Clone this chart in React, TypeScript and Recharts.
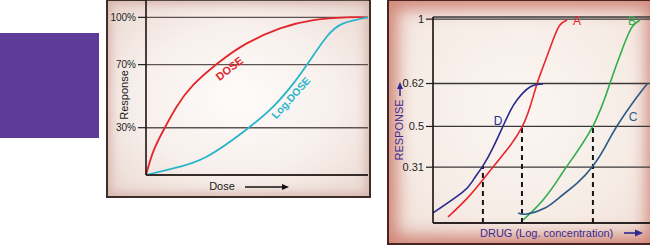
import React from "react";
import {
  CartesianGrid,
  Label,
  Line,
  LineChart,
  ReferenceDot,
  ReferenceLine,
  XAxis,
  YAxis,
} from "recharts";

const FONT = '"Liberation Sans", Arial, Helvetica, sans-serif';

// left panel: response (%) against dose
const DOSE_X = [0, 3.3, 8.1, 13.8, 21.3, 32.6, 45.4, 60.4, 75.4, 90.4, 100];
const DOSE_Y = [0, 15, 29, 43.3, 57.1, 71.2, 83.5, 93, 98.3, 100, 100];
const LOGDOSE_X = [0, 12.3, 27.3, 45.4, 57.3, 66.4, 73.1, 81.4, 88.9, 100];
const LOGDOSE_Y = [0, 4.2, 11.6, 29, 43.3, 58.1, 71.2, 87.7, 96.2, 100];
const PCT_TICKS = [30, 70, 100];
const CURVE_NAMES = ["DOSE", "Log.DOSE"];
const CURVE_NAME_X = [37.8, 65.6];
const CURVE_NAME_Y = [67, 48.6];

// right panel: response against log concentration, drugs A-D
const A_X = [6.9, 17.1, 27.6, 35.5, 41, 44.7, 47.9, 50.7, 55.3, 58.5, 61.8];
const A_Y = [0.078, 0.18, 0.31, 0.41, 0.497, 0.591, 0.698, 0.777, 0.903, 0.973, 0.996];
const B_X = [41.5, 50.7, 58.5, 61.8, 73.7, 81.6, 87.6, 91.7, 95.4];
const B_Y = [0.064, 0.157, 0.266, 0.316, 0.502, 0.702, 0.87, 0.963, 0.996];
const C_X = [39.2, 43.3, 51.6, 58.5, 66.4, 73.7, 79.3, 84.8, 94, 99.1];
const C_Y = [0.097, 0.092, 0.12, 0.171, 0.236, 0.316, 0.404, 0.502, 0.637, 0.702];
const D_X = [0, 13.8, 18.5, 23, 27.6, 32.3, 35.5, 38.7, 44.7, 50.7];
const D_Y = [0.097, 0.195, 0.25, 0.316, 0.4, 0.502, 0.57, 0.623, 0.684, 0.698];
// the "0.62" guide is drawn higher than its value in the original sketch
const RESP_TICKS = [0.31, 0.5, 0.7, 1];
const RESP_LABELS = ["0.31", "0.5", "0.62", "1"];
const DRUG_NAMES = ["A", "B", "C", "D"];
const DRUG_COLORS = ["#e8262b", "#2fae4a", "#2a5a86", "#2b2a8e"];
const DRUG_NAME_X = [66.4, 91.7, 92.2, 30];
const DRUG_NAME_Y = [0.987, 0.987, 0.539, 0.521];
const DROP_X = [23, 41, 73.7];
const DROP_Y = [0.316, 0.502, 0.502];

const pts = (xs: number[], ys: number[]) => xs.map((x, i) => ({ x, y: ys[i] }));

function DoseChart() {
  return (
    <LineChart width={263} height={197} margin={{ top: 0, right: 2, bottom: 0, left: 0 }}>
      <CartesianGrid vertical={false} stroke="#5e5350" strokeWidth={1.4} />
      <XAxis
        type="number"
        dataKey="x"
        domain={[0, 100]}
        height={22}
        tick={false}
        tickLine={false}
        axisLine={{ stroke: "#1c1412", strokeWidth: 1.6 }}
      >
        <Label
          content={({ viewBox }: any) => (
            <g>
              <text x={viewBox.x + 76} y={viewBox.y + 12} textAnchor="middle" dominantBaseline="middle" fontSize={11} fontFamily={FONT} fill="#1a1a1a">
                Dose
              </text>
              <line x1={viewBox.x + 99} x2={viewBox.x + 137} y1={viewBox.y + 12} y2={viewBox.y + 12} stroke="#111" strokeWidth={1.3} />
              <polygon
                points={`${viewBox.x + 143},${viewBox.y + 12} ${viewBox.x + 136},${viewBox.y + 9} ${viewBox.x + 136},${viewBox.y + 15}`}
                fill="#111"
              />
            </g>
          )}
        />
      </XAxis>
      <YAxis
        type="number"
        domain={[0, 111]}
        ticks={PCT_TICKS}
        width={39}
        tickSize={8}
        tickFormatter={(v: number) => `${v}%`}
        tick={{ fill: "#1e1e1e", fontSize: 10, fontFamily: FONT }}
        tickLine={{ stroke: "#1e1e1e", strokeWidth: 1.2 }}
        axisLine={{ stroke: "#1c1412", strokeWidth: 1.6 }}
      >
        <Label
          content={({ viewBox }: any) => (
            <text
              x={viewBox.x + 18}
              y={95}
              transform={`rotate(-90 ${viewBox.x + 18} 95)`}
              textAnchor="middle"
              dominantBaseline="middle"
              fontSize={11}
              fontFamily={FONT}
              fill="#1a1a1a"
            >
              Response
            </text>
          )}
        />
      </YAxis>
      <Line data={pts(DOSE_X, DOSE_Y)} dataKey="y" type="natural" stroke="#e3262b" strokeWidth={1.8} dot={false} isAnimationActive={false} />
      <Line data={pts(LOGDOSE_X, LOGDOSE_Y)} dataKey="y" type="natural" stroke="#2ab4cb" strokeWidth={1.8} dot={false} isAnimationActive={false} />
      {CURVE_NAMES.map((name, i) => (
        <ReferenceDot
          key={name}
          x={CURVE_NAME_X[i]}
          y={CURVE_NAME_Y[i]}
          ifOverflow="visible"
          shape={(p: any) => (
            <text
              x={p.cx}
              y={p.cy}
              transform={`rotate(${i === 0 ? -38 : -48} ${p.cx} ${p.cy})`}
              textAnchor="middle"
              dominantBaseline="middle"
              fontSize={i === 0 ? 11 : 10.5}
              fontWeight="bold"
              fontFamily={FONT}
              fill={i === 0 ? "#e3262b" : "#2ab4cb"}
            >
              {name}
            </text>
          )}
        />
      ))}
    </LineChart>
  );
}

function DrugChart() {
  const series = [pts(A_X, A_Y), pts(B_X, B_Y), pts(C_X, C_Y), pts(D_X, D_Y)];
  return (
    <LineChart width={262} height={244} margin={{ top: 17, right: 0, bottom: 0, left: 0 }}>
      <CartesianGrid vertical={false} stroke="#3a3838" strokeWidth={1.3} />
      <XAxis
        type="number"
        dataKey="x"
        domain={[0, 100]}
        height={21}
        tick={false}
        tickLine={false}
        axisLine={{ stroke: "#161010", strokeWidth: 1.6 }}
      >
        <Label
          content={({ viewBox }: any) => (
            <g>
              <text x={viewBox.x + 47} y={viewBox.y + 11} dominantBaseline="middle" fontSize={11} fontFamily={FONT} fill="#3b2a8e">
                DRUG (Log. concentration)
              </text>
              <line x1={viewBox.x + 191} x2={viewBox.x + 203} y1={viewBox.y + 10} y2={viewBox.y + 10} stroke="#2b2a8e" strokeWidth={1.6} />
              <polygon
                points={`${viewBox.x + 210},${viewBox.y + 10} ${viewBox.x + 202},${viewBox.y + 6.5} ${viewBox.x + 202},${viewBox.y + 13.5}`}
                fill="#2b2a8e"
              />
            </g>
          )}
        />
      </XAxis>
      <YAxis
        type="number"
        domain={[0.05, 1.01]}
        ticks={RESP_TICKS}
        width={45}
        tickSize={7}
        tickFormatter={(v: number) => RESP_LABELS[RESP_TICKS.indexOf(v)]}
        tick={{ fill: "#1e1e1e", fontSize: 11, fontFamily: FONT }}
        tickLine={{ stroke: "#1e1e1e", strokeWidth: 1.2 }}
        axisLine={{ stroke: "#161010", strokeWidth: 1.6 }}
      >
        <Label
          content={({ viewBox }: any) => (
            <g>
              <text
                x={viewBox.x + 12}
                y={130}
                transform={`rotate(-90 ${viewBox.x + 12} 130)`}
                textAnchor="middle"
                dominantBaseline="middle"
                fontSize={11}
                fontFamily={FONT}
                fill="#3b2a8e"
              >
                RESPONSE
              </text>
              <line x1={viewBox.x + 12} x2={viewBox.x + 12} y1={96} y2={88} stroke="#2b2a8e" strokeWidth={1.5} />
              <polygon points={`${viewBox.x + 12},${82} ${viewBox.x + 9},${89} ${viewBox.x + 15},${89}`} fill="#2b2a8e" />
            </g>
          )}
        />
      </YAxis>
      {DROP_X.map((x, i) => (
        <ReferenceLine
          key={`drop-${i}`}
          segment={[
            { x, y: 0.05 },
            { x, y: DROP_Y[i] },
          ]}
          stroke="#151515"
          strokeWidth={2}
          strokeDasharray="5 4"
        />
      ))}
      {series.map((data, i) => (
        <Line
          key={DRUG_NAMES[i]}
          data={data}
          dataKey="y"
          type="natural"
          stroke={DRUG_COLORS[i]}
          strokeWidth={1.6}
          dot={false}
          isAnimationActive={false}
        />
      ))}
      {DRUG_NAMES.map((name, i) => (
        <ReferenceDot
          key={`name-${name}`}
          x={DRUG_NAME_X[i]}
          y={DRUG_NAME_Y[i]}
          ifOverflow="visible"
          shape={(p: any) => (
            <text x={p.cx} y={p.cy} textAnchor="middle" dominantBaseline="middle" fontSize={12} fontFamily={FONT} fill={DRUG_COLORS[i]}>
              {name}
            </text>
          )}
        />
      ))}
    </LineChart>
  );
}

export default function App() {
  return (
    <div style={{ position: "absolute", left: 0, top: 0, width: 650, height: 245, overflow: "hidden", background: "#fff" }}>
      <div style={{ position: "absolute", left: 0, top: 33, width: 99, height: 105, background: "#5c3b99" }} />
      <div
        style={{
          position: "absolute",
          left: 106,
          top: -1,
          width: 265,
          height: 199,
          boxSizing: "border-box",
          border: "2px solid #3d2e2a",
          background: "radial-gradient(ellipse at 50% 50%, #fefcfb 0%, #f7efeb 55%, #ead7d0 100%)",
          boxShadow: "inset 0 0 10px 3px rgba(205,165,155,0.7)",
        }}
      />
      <div style={{ position: "absolute", left: 107, top: 0 }}>
        <DoseChart />
      </div>
      <div
        style={{
          position: "absolute",
          left: 387,
          top: -1,
          width: 270,
          height: 246,
          boxSizing: "border-box",
          border: "2px solid #4a2520",
          background: "radial-gradient(ellipse at 50% 45%, #fbf6f2 0%, #f6ece6 60%, #efddd5 100%)",
          boxShadow: "inset 0 0 16px 8px rgba(205,125,110,0.9)",
        }}
      />
      <div style={{ position: "absolute", left: 388, top: 0 }}>
        <DrugChart />
      </div>
    </div>
  );
}
